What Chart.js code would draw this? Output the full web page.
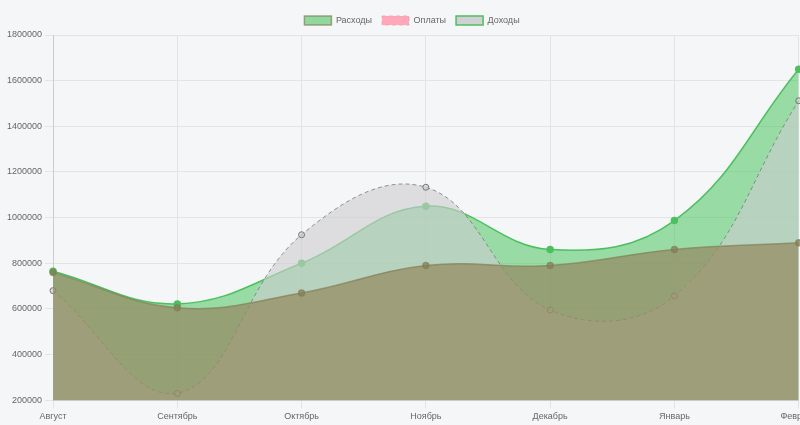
<!DOCTYPE html>
<html><head><meta charset="utf-8">
<script src="https://cdn.jsdelivr.net/npm/chart.js@4/dist/chart.umd.min.js"></script>
<style>
html,body{margin:0;padding:0;overflow:hidden;background:#f5f6f8;}
#wrap{width:820px;height:425px;}
</style></head><body>
<div id="wrap"><canvas id="c"></canvas></div>
<script>
const MONTHS = ["Август", "Сентябрь", "Октябрь", "Ноябрь", "Декабрь", "Январь", "Февраль"];
const INCOME = [765000, 622000, 800000, 1050000, 860000, 987000, 1650000];
const EXPENSES = [760000, 605000, 670000, 790000, 790000, 860000, 890000];
const PAYMENTS = [680000, 230000, 925000, 1133000, 595000, 657000, 1512000];
const LEGEND_COLORS = ["rgba(76,196,96,0.6)", "rgba(255,150,170,0.8)", "rgba(200,200,204,0.8)"];

const defaultLabels = Chart.defaults.plugins.legend.labels.generateLabels;

new Chart(document.getElementById("c"), {
  type: "line",
  data: {
    labels: MONTHS,
    datasets: [
      {
        label: "Доходы", data: INCOME, fill: "origin", tension: 0.4, order: 3,
        borderColor: "#4cc05e", backgroundColor: "rgba(76,196,96,0.55)",
        pointBackgroundColor: "#4cc05e", pointRadius: 3, borderWidth: 1.5,
      },
      {
        label: "Расходы", data: EXPENSES, fill: "origin", tension: 0.4, order: 1,
        borderColor: "rgba(130,125,85,0.7)", backgroundColor: "rgba(150,140,100,0.75)",
        pointBackgroundColor: "rgba(130,125,85,0.7)", pointRadius: 3, borderWidth: 1.5,
      },
      {
        label: "Оплаты", data: PAYMENTS, fill: "origin", tension: 0.4, order: 2,
        borderColor: "rgba(120,120,120,0.8)", borderDash: [4, 3], backgroundColor: "rgba(205,205,208,0.6)",
        pointBackgroundColor: "rgba(200,200,200,0.6)", pointBorderColor: "#777", pointRadius: 3, borderWidth: 1,
      },
    ],
  },
  options: {
    responsive: true, maintainAspectRatio: false, animation: false,
    layout: { padding: { top: 6, left: 4 } },
    plugins: {
      legend: {
        labels: {
          boxWidth: 27, boxHeight: 9, font: { size: 9, family: "Liberation Sans" }, color: "#666",
          generateLabels: (chart) => defaultLabels(chart).map((l, i) => ({ ...l, fillStyle: LEGEND_COLORS[i], strokeStyle: i === 1 ? LEGEND_COLORS[1] : l.strokeStyle })),
        },
      },
      tooltip: { enabled: false },
    },
    scales: {
      x: { grid: { color: "#e4e4e4" }, ticks: { font: { size: 9, family: "Liberation Sans" }, color: "#666", maxRotation: 0 } },
      y: {
        min: 200000, max: 1800000,
        ticks: { stepSize: 200000, font: { size: 9, family: "Liberation Sans" }, color: "#666", callback: (v) => String(v) },
        grid: { color: "#e4e4e4" },
      },
    },
  },
});
</script>
</body></html>
